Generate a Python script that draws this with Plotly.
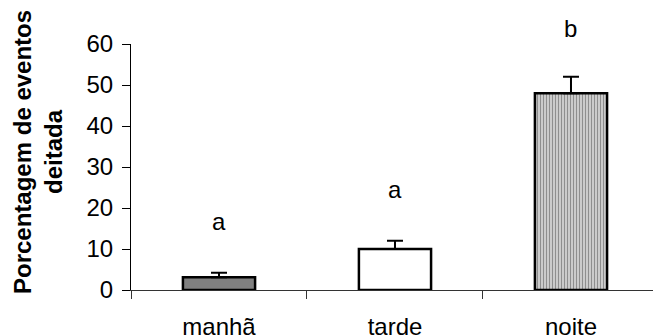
import plotly.graph_objects as go

categories = ["manhã", "tarde", "noite"]
values = [3.1, 10, 48]
errors = [1.1, 2, 4]
letters = ["a", "a", "b"]
letters_y = [16.6, 24.4, 63.9]
y_ticks = [0, 10, 20, 30, 40, 50, 60]
Y_MAX = 60

FONT = "Liberation Sans"
FS = 24

fig = go.Figure()
fig.add_trace(go.Bar(
    x=categories, y=values, width=0.41,
    marker=dict(
        color=["#808080", "#ffffff", "#d8d8d8"],
        line=dict(color="black", width=2.5),
        pattern=dict(shape=["", "", "|"], fgcolor="#8a8a8a", bgcolor="#e6e6e6", size=3, solidity=0.45),
    ),
    error_y=dict(type="data", array=errors, arrayminus=[0, 0, 0], symmetric=False,
                 color="black", thickness=2, width=8),
    showlegend=False,
    cliponaxis=False,
))

for c, t, yy in zip(categories, letters, letters_y):
    fig.add_annotation(x=c, y=yy / Y_MAX, xref="x", yref="paper", text=t, showarrow=False,
                       font=dict(size=FS, color="black", family=FONT), yanchor="middle")

fig.add_annotation(x=(38 - 131) / 522, y=(290 - 152) / 246, xref="paper", yref="paper",
                   text="<b>Porcentagem de eventos<br>deitada</b>", textangle=-90,
                   showarrow=False, font=dict(size=FS, color="black", family=FONT),
                   xanchor="center", yanchor="middle")

fig.update_layout(
    width=653, height=335,
    margin=dict(l=131, r=0, t=44, b=45, autoexpand=False),
    plot_bgcolor="white", paper_bgcolor="white",
    font=dict(family=FONT, size=FS, color="black"),
)
fig.update_xaxes(
    type="category", range=[-0.5, 2.466], tickson="boundaries",
    ticks="outside", ticklen=8, tickcolor="#333", tickwidth=1,
    showline=True, linecolor="#333", linewidth=1, showgrid=False,
    tickfont=dict(size=FS, family=FONT), ticklabelstandoff=15, automargin=False,
)
fig.update_yaxes(
    range=[0, Y_MAX], tickvals=y_ticks, ticks="outside", ticklen=8, tickcolor="black",
    showline=True, linecolor="black", linewidth=1, showgrid=False, zeroline=False,
    tickfont=dict(size=FS, family=FONT), ticklabelstandoff=4, automargin=False,
)

fig.write_html("out.html")
